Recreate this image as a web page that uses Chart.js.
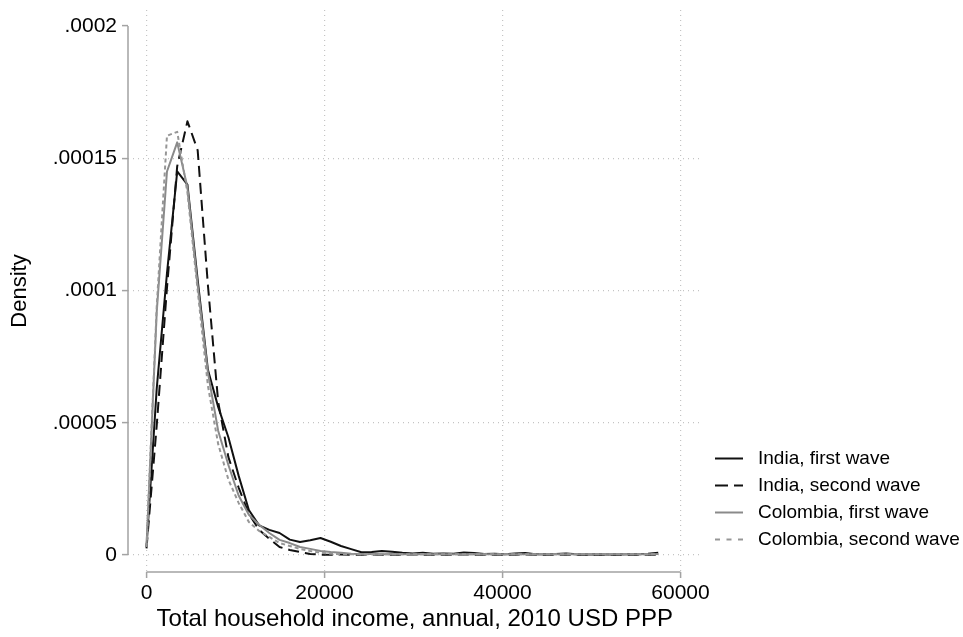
<!DOCTYPE html>
<html>
<head>
<meta charset="utf-8">
<script src="https://cdn.jsdelivr.net/npm/chart.js@4.4.0/dist/chart.umd.min.js"></script>
<style>
  body { margin: 0; background: #fff; }
  #wrap { width: 963px; height: 637px; }
</style>
</head>
<body>
<div id="wrap"><canvas id="density" width="963" height="637"></canvas></div>
<script>
// kernel density of annual household income, evaluated on a common grid
const income = [
  0, 1150, 2300, 3450, 4600, 5750, 6900, 8050, 9200, 10350,
  11500, 12650, 13800, 14950, 16100, 17250, 18400, 19550, 20700, 21850,
  23000, 24150, 25300, 26450, 27600, 28750, 29900, 31050, 32200, 33350,
  34500, 35650, 36800, 37950, 39100, 40250, 41400, 42550, 43700, 44850,
  46000, 47150, 48300, 49450, 50600, 51750, 52900, 54050, 55200, 56350,
  57500
];

const indiaWave1 = [
  3.0e-6, 6.3e-5, 1.065e-4, 1.45e-4, 1.40e-4, 1.04e-4, 7.0e-5, 5.6e-5, 4.45e-5, 3.0e-5,
  1.7e-5, 1.12e-5, 9.5e-6, 8.3e-6, 5.8e-6, 4.9e-6, 5.6e-6, 6.4e-6, 5.0e-6, 3.4e-6,
  2.2e-6, 1.0e-6, 1.1e-6, 1.5e-6, 1.2e-6, 8e-7, 6e-7, 8e-7, 5e-7, 6e-7,
  5e-7, 9e-7, 7e-7, 4e-7, 5e-7, 3e-7, 6e-7, 7e-7, 3e-7, 3e-7,
  4e-7, 6e-7, 3e-7, 2e-7, 3e-7, 2e-7, 2e-7, 3e-7, 3e-7, 5e-7,
  8e-7
];

const indiaWave2 = [
  2.5e-6, 4.9e-5, 1.01e-4, 1.47e-4, 1.64e-4, 1.53e-4, 1.02e-4, 5.8e-5, 3.7e-5, 2.55e-5,
  1.55e-5, 9.5e-6, 6.1e-6, 3.0e-6, 1.9e-6, 1.1e-6, 4e-7, 1e-7, 1e-7, 2e-7,
  1e-7, 1e-7, 2e-7, 1e-7, 1e-7, 1e-7, 2e-7, 1e-7, 1e-7, 1e-7,
  1e-7, 2e-7, 1e-7, 1e-7, 1e-7, 1e-7, 1e-7, 2e-7, 1e-7, 1e-7,
  1e-7, 1e-7, 1e-7, 1e-7, 1e-7, 1e-7, 1e-7, 1e-7, 1e-7, 1e-7,
  1e-7
];

const colombiaWave1 = [
  3.0e-6, 9.2e-5, 1.45e-4, 1.56e-4, 1.39e-4, 1.02e-4, 6.9e-5, 4.7e-5, 3.4e-5, 2.25e-5,
  1.52e-5, 1.14e-5, 8.3e-6, 5.7e-6, 4.5e-6, 3.0e-6, 2.3e-6, 1.5e-6, 1.1e-6, 8e-7,
  5e-7, 4e-7, 4e-7, 3e-7, 4e-7, 3e-7, 3e-7, 4e-7, 3e-7, 3e-7,
  3e-7, 3e-7, 4e-7, 3e-7, 3e-7, 3e-7, 3e-7, 3e-7, 3e-7, 3e-7,
  3e-7, 3e-7, 3e-7, 3e-7, 3e-7, 3e-7, 3e-7, 3e-7, 3e-7, 3e-7,
  4e-7
];

const colombiaWave2 = [
  3.0e-6, 9.4e-5, 1.585e-4, 1.60e-4, 1.37e-4, 1.0e-4, 6.4e-5, 4.2e-5, 2.85e-5, 1.97e-5,
  1.25e-5, 9.1e-6, 6.8e-6, 4.5e-6, 3.4e-6, 2.3e-6, 1.5e-6, 8e-7, 5e-7, 3e-7,
  3e-7, 3e-7, 3e-7, 3e-7, 3e-7, 3e-7, 3e-7, 3e-7, 3e-7, 3e-7,
  3e-7, 3e-7, 3e-7, 3e-7, 3e-7, 3e-7, 3e-7, 3e-7, 3e-7, 3e-7,
  3e-7, 3e-7, 3e-7, 3e-7, 3e-7, 3e-7, 3e-7, 3e-7, 3e-7, 3e-7,
  3e-7
];

const seriesNames = ['India, first wave', 'India, second wave', 'Colombia, first wave', 'Colombia, second wave'];
const xTicks = [0, 20000, 40000, 60000];
const xTickLabels = ['0', '20000', '40000', '60000'];
const yTicks = [0, 0.00005, 0.0001, 0.00015, 0.0002];
const yTickLabels = ['0', '.00005', '.0001', '.00015', '.0002'];

const AXIS = '#a3a3a3';
const GRID = '#c4c4c4';

Chart.defaults.font.family = '"Liberation Sans", Arial, Helvetica, sans-serif';
Chart.defaults.color = '#000';

function points(values) {
  return income.map((x, i) => ({ x: x, y: values[i] }));
}

// short line sample for the legend key, so dashes show there too
function keySample(color, dash) {
  const c = document.createElement('canvas');
  c.width = 28;
  c.height = 4;
  const g = c.getContext('2d');
  g.strokeStyle = color;
  g.lineWidth = 2;
  g.setLineDash(dash);
  g.beginPath();
  g.moveTo(0, 2);
  g.lineTo(28, 2);
  g.stroke();
  return c;
}

// axis lines only span the first to last tick
const axisLines = {
  id: 'axisLines',
  beforeDatasetsDraw(chart) {
    const { ctx, chartArea, scales: { x, y } } = chart;
    ctx.save();
    ctx.strokeStyle = AXIS;
    ctx.lineWidth = 1.5;
    ctx.beginPath();
    ctx.moveTo(chartArea.left, y.getPixelForValue(yTicks[yTicks.length - 1]));
    ctx.lineTo(chartArea.left, y.getPixelForValue(yTicks[0]));
    ctx.moveTo(x.getPixelForValue(xTicks[0]), chartArea.bottom);
    ctx.lineTo(x.getPixelForValue(xTicks[xTicks.length - 1]), chartArea.bottom);
    ctx.stroke();
    ctx.restore();
  }
};

// keys sit a bit above the bottom of the plot region
const legendLift = {
  id: 'legendLift',
  afterLayout(chart) {
    chart.legend.top -= 15;
    chart.legend.bottom -= 15;
  }
};

const noEdgePadding = s => {
  s.paddingTop = 0;
  s.paddingBottom = 0;
  s.paddingLeft = 0;
  s.paddingRight = 0;
};

new Chart(document.getElementById('density'), {
  type: 'line',
  data: {
    datasets: [
      { label: seriesNames[0], data: points(indiaWave1), borderColor: '#111', borderWidth: 2, order: 4,
        pointStyle: keySample('#111', []) },
      { label: seriesNames[1], data: points(indiaWave2), borderColor: '#111', borderWidth: 2, borderDash: [11, 6], order: 3,
        pointStyle: keySample('#111', [13, 6]) },
      { label: seriesNames[2], data: points(colombiaWave1), borderColor: '#8a8a8a', borderWidth: 2, order: 2,
        pointStyle: keySample('#8a8a8a', []) },
      { label: seriesNames[3], data: points(colombiaWave2), borderColor: '#969696', borderWidth: 2, borderDash: [4, 3], order: 1,
        pointStyle: keySample('#969696', [5, 6.5]) }
    ]
  },
  options: {
    responsive: false,
    animation: false,
    devicePixelRatio: 1,
    layout: { padding: { top: 10, right: 0, bottom: 0, left: 0 } },
    elements: {
      point: { radius: 0 },
      line: { tension: 0, fill: false, borderJoinStyle: 'round' }
    },
    scales: {
      x: {
        type: 'linear',
        min: -2079,
        max: 62360,
        afterBuildTicks: s => { s.ticks = xTicks.map(v => ({ value: v })); },
        afterFit: s => { s.height = 65; noEdgePadding(s); },
        ticks: {
          callback: (v, i) => xTickLabels[i],
          font: { size: 21 },
          padding: 3,
          maxRotation: 0,
          autoSkip: false
        },
        grid: {
          color: GRID,
          lineWidth: 1.2,
          tickColor: AXIS,
          tickLength: 6,
          tickWidth: 1.5
        },
        border: { display: false, dash: [1, 4] },
        title: {
          display: true,
          text: 'Total household income, annual, 2010 USD PPP',
          font: { size: 24 },
          padding: { top: 0, bottom: 3 }
        }
      },
      y: {
        type: 'linear',
        min: -0.00000644,
        max: 0.00020606,
        afterBuildTicks: s => { s.ticks = yTicks.map(v => ({ value: v })); },
        afterFit: s => { s.width = 128; noEdgePadding(s); },
        ticks: {
          callback: (v, i) => yTickLabels[i],
          font: { size: 21 },
          padding: 5
        },
        grid: {
          color: c => (c.tick && c.tick.value === yTicks[yTicks.length - 1]) ? 'rgba(0,0,0,0)' : GRID,
          lineWidth: 1.2,
          tickColor: AXIS,
          tickLength: 6,
          tickWidth: 1.5
        },
        border: { display: false, dash: [1, 4] },
        title: {
          display: true,
          text: 'Density',
          font: { size: 22 },
          padding: { top: 7, bottom: 0 }
        }
      }
    },
    plugins: {
      legend: {
        position: 'right',
        align: 'end',
        fullSize: false,
        maxWidth: 261.5,
        labels: {
          usePointStyle: true,
          pointStyleWidth: 39,
          padding: 8,
          color: '#000',
          font: { size: 19 },
          sort: (a, b) => a.datasetIndex - b.datasetIndex
        }
      },
      tooltip: { enabled: false }
    }
  },
  plugins: [axisLines, legendLift]
});
</script>
</body>
</html>
